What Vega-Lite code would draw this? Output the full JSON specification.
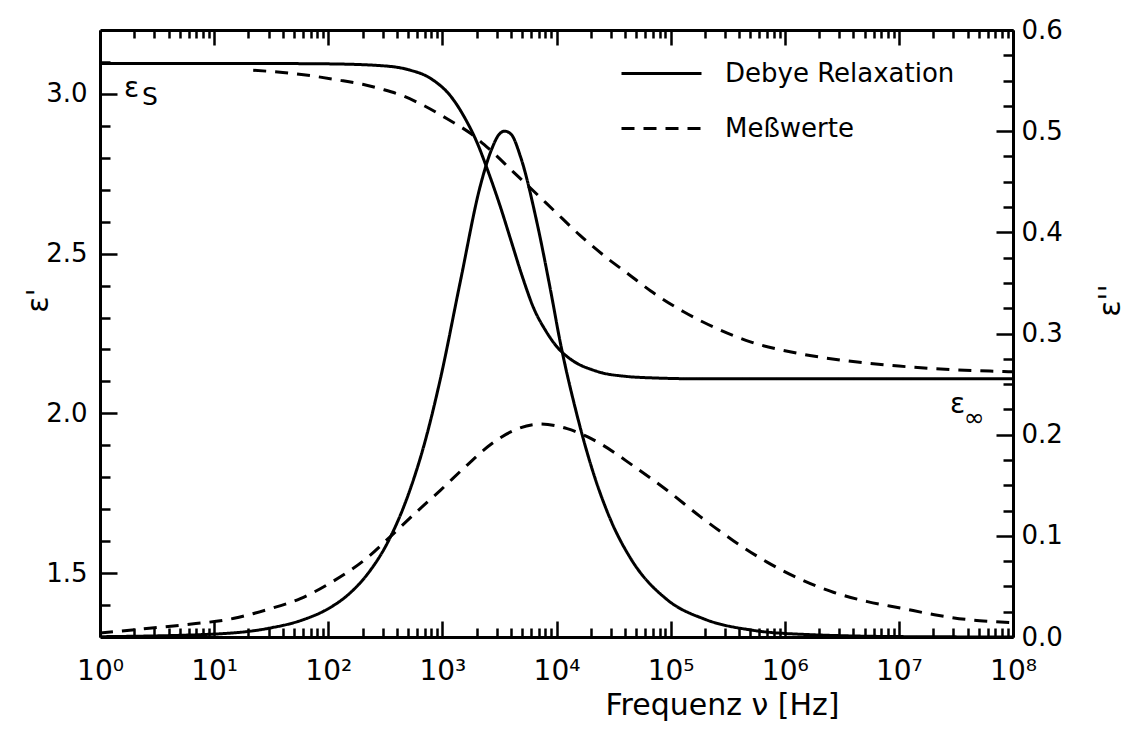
{
  "$schema": "https://vega.github.io/schema/vega-lite/v6.json",
  "width": 913,
  "height": 607,
  "autosize": {"type": "none"},
  "padding": {"left": 100, "top": 30, "right": 128, "bottom": 109},
  "background": "white",
  "datasets": {
    "eps1": [
      {"f": 1, "v": 3.095, "type": "Debye Relaxation"},
      {"f": 30, "v": 3.095, "type": "Debye Relaxation"},
      {"f": 100, "v": 3.094, "type": "Debye Relaxation"},
      {"f": 300, "v": 3.088, "type": "Debye Relaxation"},
      {"f": 500, "v": 3.076, "type": "Debye Relaxation"},
      {"f": 800, "v": 3.047, "type": "Debye Relaxation"},
      {"f": 1200, "v": 2.99, "type": "Debye Relaxation"},
      {"f": 1600, "v": 2.92, "type": "Debye Relaxation"},
      {"f": 2000, "v": 2.85, "type": "Debye Relaxation"},
      {"f": 2500, "v": 2.76, "type": "Debye Relaxation"},
      {"f": 3200, "v": 2.65, "type": "Debye Relaxation"},
      {"f": 4000, "v": 2.54, "type": "Debye Relaxation"},
      {"f": 5000, "v": 2.43, "type": "Debye Relaxation"},
      {"f": 6300, "v": 2.33, "type": "Debye Relaxation"},
      {"f": 8000, "v": 2.26, "type": "Debye Relaxation"},
      {"f": 10000, "v": 2.21, "type": "Debye Relaxation"},
      {"f": 13000, "v": 2.172, "type": "Debye Relaxation"},
      {"f": 16000, "v": 2.152, "type": "Debye Relaxation"},
      {"f": 20000, "v": 2.138, "type": "Debye Relaxation"},
      {"f": 25000, "v": 2.127, "type": "Debye Relaxation"},
      {"f": 40000, "v": 2.116, "type": "Debye Relaxation"},
      {"f": 70000, "v": 2.111, "type": "Debye Relaxation"},
      {"f": 200000, "v": 2.108, "type": "Debye Relaxation"},
      {"f": 1000000, "v": 2.108, "type": "Debye Relaxation"},
      {"f": 100000000, "v": 2.108, "type": "Debye Relaxation"},
      {"f": 22, "v": 3.074, "type": "Meßwerte"},
      {"f": 40, "v": 3.067, "type": "Meßwerte"},
      {"f": 70, "v": 3.057, "type": "Meßwerte"},
      {"f": 120, "v": 3.044, "type": "Meßwerte"},
      {"f": 200, "v": 3.03, "type": "Meßwerte"},
      {"f": 300, "v": 3.014, "type": "Meßwerte"},
      {"f": 450, "v": 2.994, "type": "Meßwerte"},
      {"f": 700, "v": 2.962, "type": "Meßwerte"},
      {"f": 1100, "v": 2.922, "type": "Meßwerte"},
      {"f": 1800, "v": 2.874, "type": "Meßwerte"},
      {"f": 2600, "v": 2.826, "type": "Meßwerte"},
      {"f": 4200, "v": 2.755, "type": "Meßwerte"},
      {"f": 6000, "v": 2.703, "type": "Meßwerte"},
      {"f": 9500, "v": 2.635, "type": "Meßwerte"},
      {"f": 16000, "v": 2.558, "type": "Meßwerte"},
      {"f": 28000, "v": 2.485, "type": "Meßwerte"},
      {"f": 42000, "v": 2.438, "type": "Meßwerte"},
      {"f": 67000, "v": 2.383, "type": "Meßwerte"},
      {"f": 130000, "v": 2.318, "type": "Meßwerte"},
      {"f": 260000, "v": 2.264, "type": "Meßwerte"},
      {"f": 500000, "v": 2.224, "type": "Meßwerte"},
      {"f": 1400000, "v": 2.186, "type": "Meßwerte"},
      {"f": 3800000, "v": 2.163, "type": "Meßwerte"},
      {"f": 10000000, "v": 2.148, "type": "Meßwerte"},
      {"f": 29000000, "v": 2.137, "type": "Meßwerte"},
      {"f": 83000000, "v": 2.131, "type": "Meßwerte"},
      {"f": 100000000, "v": 2.13, "type": "Meßwerte"}
    ],
    "eps2": [
      {"f": 1, "v": 0.0003, "type": "Debye Relaxation"},
      {"f": 10, "v": 0.0029, "type": "Debye Relaxation"},
      {"f": 30, "v": 0.0086, "type": "Debye Relaxation"},
      {"f": 60, "v": 0.017, "type": "Debye Relaxation"},
      {"f": 100, "v": 0.028, "type": "Debye Relaxation"},
      {"f": 150, "v": 0.042, "type": "Debye Relaxation"},
      {"f": 220, "v": 0.062, "type": "Debye Relaxation"},
      {"f": 330, "v": 0.093, "type": "Debye Relaxation"},
      {"f": 500, "v": 0.14, "type": "Debye Relaxation"},
      {"f": 700, "v": 0.192, "type": "Debye Relaxation"},
      {"f": 960, "v": 0.255, "type": "Debye Relaxation"},
      {"f": 1440, "v": 0.352, "type": "Debye Relaxation"},
      {"f": 2150, "v": 0.446, "type": "Debye Relaxation"},
      {"f": 2700, "v": 0.482, "type": "Debye Relaxation"},
      {"f": 3100, "v": 0.496, "type": "Debye Relaxation"},
      {"f": 3500, "v": 0.5, "type": "Debye Relaxation"},
      {"f": 4000, "v": 0.497, "type": "Debye Relaxation"},
      {"f": 4830, "v": 0.475, "type": "Debye Relaxation"},
      {"f": 6760, "v": 0.409, "type": "Debye Relaxation"},
      {"f": 8860, "v": 0.343, "type": "Debye Relaxation"},
      {"f": 10800, "v": 0.291, "type": "Debye Relaxation"},
      {"f": 15000, "v": 0.221, "type": "Debye Relaxation"},
      {"f": 20000, "v": 0.17, "type": "Debye Relaxation"},
      {"f": 30000, "v": 0.115, "type": "Debye Relaxation"},
      {"f": 45000, "v": 0.077, "type": "Debye Relaxation"},
      {"f": 93000, "v": 0.037, "type": "Debye Relaxation"},
      {"f": 200000, "v": 0.0175, "type": "Debye Relaxation"},
      {"f": 500000, "v": 0.007, "type": "Debye Relaxation"},
      {"f": 1000000, "v": 0.0035, "type": "Debye Relaxation"},
      {"f": 10000000, "v": 0.0004, "type": "Debye Relaxation"},
      {"f": 100000000, "v": 0.0, "type": "Debye Relaxation"},
      {"f": 1, "v": 0.004, "type": "Meßwerte"},
      {"f": 2.7, "v": 0.0086, "type": "Meßwerte"},
      {"f": 5.4, "v": 0.012, "type": "Meßwerte"},
      {"f": 15, "v": 0.0185, "type": "Meßwerte"},
      {"f": 29, "v": 0.027, "type": "Meßwerte"},
      {"f": 57, "v": 0.038, "type": "Meßwerte"},
      {"f": 110, "v": 0.055, "type": "Meßwerte"},
      {"f": 218, "v": 0.078, "type": "Meßwerte"},
      {"f": 348, "v": 0.099, "type": "Meßwerte"},
      {"f": 560, "v": 0.121, "type": "Meßwerte"},
      {"f": 960, "v": 0.145, "type": "Meßwerte"},
      {"f": 1650, "v": 0.17, "type": "Meßwerte"},
      {"f": 2630, "v": 0.19, "type": "Meßwerte"},
      {"f": 4200, "v": 0.204, "type": "Meßwerte"},
      {"f": 7200, "v": 0.2105, "type": "Meßwerte"},
      {"f": 12400, "v": 0.206, "type": "Meßwerte"},
      {"f": 18600, "v": 0.198, "type": "Meßwerte"},
      {"f": 24300, "v": 0.191, "type": "Meßwerte"},
      {"f": 47300, "v": 0.169, "type": "Meßwerte"},
      {"f": 93000, "v": 0.145, "type": "Meßwerte"},
      {"f": 182000, "v": 0.119, "type": "Meßwerte"},
      {"f": 357000, "v": 0.095, "type": "Meßwerte"},
      {"f": 700000, "v": 0.074, "type": "Meßwerte"},
      {"f": 1380000, "v": 0.057, "type": "Meßwerte"},
      {"f": 2700000, "v": 0.044, "type": "Meßwerte"},
      {"f": 5300000, "v": 0.035, "type": "Meßwerte"},
      {"f": 10500000, "v": 0.0285, "type": "Meßwerte"},
      {"f": 20500000, "v": 0.022, "type": "Meßwerte"},
      {"f": 40000000, "v": 0.0172, "type": "Meßwerte"},
      {"f": 68000000, "v": 0.0152, "type": "Meßwerte"},
      {"f": 100000000, "v": 0.014, "type": "Meßwerte"}
    ],
    "notes": [
      {"f": 1.62, "v": 2.99, "label": "ε"},
      {"f": 28000000, "v": 2.0, "label": "ε"}
    ],
    "subs": [
      {"f": 2.33, "v": 2.966, "label": "S"},
      {"f": 37000000, "v": 1.96, "label": "∞"}
    ]
  },
  "layer": [
    {
      "data": {"name": "eps1"},
      "mark": {"type": "line", "color": "black", "strokeWidth": 3, "interpolate": "monotone", "clip": true},
      "encoding": {
        "x": {
          "field": "f", "type": "quantitative",
          "scale": {"type": "log", "domain": [1, 100000000], "nice": false},
          "axis": {
            "orient": "bottom",
            "values": [1,2,3,4,5,6,7,8,9,10,20,30,40,50,60,70,80,90,100,200,300,400,500,600,700,800,900,1000,2000,3000,4000,5000,6000,7000,8000,9000,10000,20000,30000,40000,50000,60000,70000,80000,90000,100000,200000,300000,400000,500000,600000,700000,800000,900000,1000000,2000000,3000000,4000000,5000000,6000000,7000000,8000000,9000000,10000000,20000000,30000000,40000000,50000000,60000000,70000000,80000000,90000000,100000000],
            "labelExpr": "abs(log(datum.value)/LN10 - round(log(datum.value)/LN10)) < 0.001 ? '10' + ['⁰','¹','²','³','⁴','⁵','⁶','⁷','⁸'][round(log(datum.value)/LN10)] : ''",
            "labelFlush": false, "labelOverlap": false,
            "labelFont": "DejaVu Sans", "labelFontSize": 28, "labelColor": "black", "labelPadding": 36, "labelBaseline": "top",
            "ticks": true, "tickSize": -16, "tickColor": "black", "tickWidth": 2.5,
            "tickDash": {"condition": {"test": "abs(log(datum.value)/LN10 - round(log(datum.value)/LN10)) < 0.001", "value": [1, 0]}, "value": [9, 40]},
            "domain": true, "domainColor": "black", "domainWidth": 3,
            "title": "Frequenz ν [Hz]", "titleFont": "DejaVu Sans", "titleFontSize": 30, "titleFontWeight": "normal", "titleColor": "black",
            "titleX": 622, "titleY": 77, "titleBaseline": "alphabetic", "titleAlign": "center"
          }
        },
        "y": {
          "field": "v", "type": "quantitative",
          "scale": {"domain": [1.3, 3.2], "nice": false, "zero": false},
          "axis": {
            "orient": "left",
            "values": [1.4, 1.5, 1.6, 1.7, 1.8, 1.9, 2.0, 2.1, 2.2, 2.3, 2.4, 2.5, 2.6, 2.7, 2.8, 2.9, 3.0, 3.1],
            "labelExpr": "abs(datum.value*2 - round(datum.value*2)) < 0.001 ? format(datum.value, '.1f') : ''",
            "labelOverlap": false,
            "labelFont": "DejaVu Sans", "labelFontSize": 26, "labelColor": "black", "labelPadding": 30,
            "ticks": true, "tickSize": -17, "tickColor": "black", "tickWidth": 2.5,
            "tickDash": {"condition": {"test": "abs(datum.value*2 - round(datum.value*2)) < 0.001", "value": [1, 0]}, "value": [10, 40]},
            "domain": true, "domainColor": "black", "domainWidth": 3,
            "title": "ε'", "titleFont": "DejaVu Sans", "titleFontSize": 30, "titleFontWeight": "normal", "titleColor": "black", "titleAngle": -90,
            "titleX": -62, "titleY": 270, "titleAlign": "center", "titleBaseline": "middle"
          }
        },
        "strokeDash": {
          "field": "type", "type": "nominal",
          "scale": {"domain": ["Debye Relaxation", "Meßwerte"], "range": [[1, 0], [13, 9]]},
          "legend": {
            "orient": "none", "legendX": 520, "legendY": 2, "title": null,
            "symbolType": "stroke", "symbolSize": 6400, "symbolStrokeWidth": 3, "symbolStrokeColor": "black",
            "labelFont": "DejaVu Sans", "labelFontSize": 26, "labelOffset": 22, "rowPadding": -24, "labelColor": "black", "labelLimit": 500
          }
        }
      }
    },
    {
      "data": {"name": "eps2"},
      "mark": {"type": "line", "color": "black", "strokeWidth": 3, "interpolate": "monotone", "clip": true},
      "encoding": {
        "x": {
          "field": "f", "type": "quantitative",
          "scale": {"type": "log", "domain": [1, 100000000], "nice": false},
          "axis": {
            "orient": "top",
            "values": [1,2,3,4,5,6,7,8,9,10,20,30,40,50,60,70,80,90,100,200,300,400,500,600,700,800,900,1000,2000,3000,4000,5000,6000,7000,8000,9000,10000,20000,30000,40000,50000,60000,70000,80000,90000,100000,200000,300000,400000,500000,600000,700000,800000,900000,1000000,2000000,3000000,4000000,5000000,6000000,7000000,8000000,9000000,10000000,20000000,30000000,40000000,50000000,60000000,70000000,80000000,90000000,100000000],
            "labels": false,
            "ticks": true, "tickSize": -15, "tickColor": "black", "tickWidth": 2.5,
            "tickDash": {"condition": {"test": "abs(log(datum.value)/LN10 - round(log(datum.value)/LN10)) < 0.001", "value": [1, 0]}, "value": [8, 40]},
            "domain": true, "domainColor": "black", "domainWidth": 3, "title": null
          }
        },
        "y": {
          "field": "v", "type": "quantitative",
          "scale": {"domain": [0, 0.6], "nice": false},
          "axis": {
            "orient": "right",
            "values": [0, 0.025, 0.05, 0.075, 0.1, 0.125, 0.15, 0.175, 0.2, 0.225, 0.25, 0.275, 0.3, 0.325, 0.35, 0.375, 0.4, 0.425, 0.45, 0.475, 0.5, 0.525, 0.55, 0.575, 0.6],
            "labelExpr": "abs(datum.value*10 - round(datum.value*10)) < 0.001 ? format(datum.value, '.1f') : ''",
            "labelOverlap": false,
            "labelFont": "DejaVu Sans", "labelFontSize": 26, "labelColor": "black", "labelPadding": 25,
            "ticks": true, "tickSize": -17, "tickColor": "black", "tickWidth": 2.5,
            "tickDash": {"condition": {"test": "abs(datum.value*10 - round(datum.value*10)) < 0.001", "value": [1, 0]}, "value": [10, 40]},
            "domain": true, "domainColor": "black", "domainWidth": 3,
            "title": "ε''", "titleFont": "DejaVu Sans", "titleFontSize": 30, "titleFontWeight": "normal", "titleColor": "black", "titleAngle": -90,
            "titleX": 97, "titleY": 270, "titleAlign": "center", "titleBaseline": "middle"
          }
        },
        "strokeDash": {
          "field": "type", "type": "nominal",
          "scale": {"domain": ["Debye Relaxation", "Meßwerte"], "range": [[1, 0], [13, 9]]},
          "legend": {
            "orient": "none", "legendX": 520, "legendY": 2, "title": null,
            "symbolType": "stroke", "symbolSize": 6400, "symbolStrokeWidth": 3, "symbolStrokeColor": "black",
            "labelFont": "DejaVu Sans", "labelFontSize": 26, "labelOffset": 22, "rowPadding": -24, "labelColor": "black", "labelLimit": 500
          }
        }
      }
    },
    {
      "data": {"name": "notes"},
      "mark": {"type": "text", "align": "left", "baseline": "alphabetic", "fontSize": 28, "font": "DejaVu Sans", "color": "black"},
      "encoding": {
        "x": {"field": "f", "type": "quantitative", "scale": {"type": "log", "domain": [1, 100000000], "nice": false}, "axis": null},
        "y": {"field": "v", "type": "quantitative", "scale": {"domain": [1.3, 3.2], "nice": false, "zero": false}, "axis": null},
        "text": {"field": "label"}
      }
    },
    {
      "data": {"name": "subs"},
      "mark": {"type": "text", "align": "left", "baseline": "alphabetic", "fontSize": 25, "font": "DejaVu Sans", "color": "black"},
      "encoding": {
        "x": {"field": "f", "type": "quantitative", "scale": {"type": "log", "domain": [1, 100000000], "nice": false}, "axis": null},
        "y": {"field": "v", "type": "quantitative", "scale": {"domain": [1.3, 3.2], "nice": false, "zero": false}, "axis": null},
        "text": {"field": "label"}
      }
    }
  ],
  "resolve": {"scale": {"y": "independent"}, "axis": {"x": "independent", "y": "independent"}},
  "config": {
    "font": "DejaVu Sans",
    "view": {"stroke": null},
    "axis": {"grid": false}
  }
}
